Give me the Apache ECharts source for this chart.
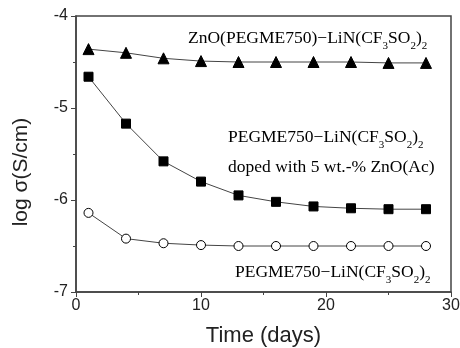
<!DOCTYPE html>
<html>
<head>
<meta charset="utf-8">
<script src="https://cdn.jsdelivr.net/npm/echarts@6/dist/echarts.min.js"></script>
<style>
  html, body { margin: 0; padding: 0; background: #fff; }
  #chart { width: 460px; height: 348px; }
</style>
</head>
<body>
<div id="chart"></div>
<script>
  // days of measurement
  const days = [1, 4, 7, 10, 13, 16, 19, 22, 25, 28];
  // log sigma values
  const znoPegme = [-4.36, -4.40, -4.46, -4.49, -4.50, -4.50, -4.50, -4.50, -4.51, -4.51];
  const pegmeDoped = [-4.66, -5.17, -5.58, -5.80, -5.95, -6.02, -6.07, -6.09, -6.10, -6.10];
  const pegme = [-6.14, -6.42, -6.47, -6.49, -6.50, -6.50, -6.50, -6.50, -6.50, -6.50];

  const pairs = (ys) => days.map((d, i) => [d, ys[i]]);

  const serif = '"Liberation Serif", "DejaVu Serif", serif';
  const sans = '"Liberation Sans", Arial, sans-serif';
  const rich = {
    a: { fontFamily: serif, fontSize: 17.5, color: '#333', lineHeight: 20 },
    s: { fontFamily: serif, fontSize: 11, color: '#333', lineHeight: 20, verticalAlign: 'bottom', padding: [0, 0, -4, 0] }
  };
  const formula = '{a|PEGME750\u2212LiN(CF}{s|3}{a|SO}{s|2}{a|)}{s|2}';

  const chart = echarts.init(document.getElementById('chart'));

  const lineSeries = (name, ys, symbol, size, fill) => ({
    name: name,
    type: 'line',
    data: pairs(ys),
    symbol: symbol,
    symbolSize: size,
    showAllSymbol: true,
    lineStyle: { color: '#444', width: 1 },
    itemStyle: { color: fill, borderColor: '#000', borderWidth: 1 },
    animation: false
  });

  chart.setOption({
    animation: false,
    grid: {
      left: 76, right: 9, top: 16, bottom: 56,
      outerBoundsMode: 'none',
      show: true, borderColor: '#444', borderWidth: 1.5
    },
    xAxis: {
      type: 'value', min: 0, max: 30, interval: 10,
      name: 'Time (days)', nameLocation: 'middle', nameGap: 33,
      nameTextStyle: { fontFamily: sans, fontSize: 22, color: '#222' },
      axisLine: { lineStyle: { color: '#444', width: 1.5 } },
      axisTick: { length: 5, lineStyle: { color: '#444' } },
      minorTick: { show: true, splitNumber: 2, length: 3, lineStyle: { color: '#444' } },
      axisLabel: { fontFamily: sans, fontSize: 16, color: '#222', margin: 6 },
      splitLine: { show: false }
    },
    yAxis: {
      type: 'value', min: -7, max: -4, interval: 1,
      name: 'log \u03c3(S/cm)', nameLocation: 'middle', nameGap: 44,
      nameTextStyle: { fontFamily: sans, fontSize: 21, color: '#222', padding: [0, 36, 0, 0] },
      axisLine: { lineStyle: { color: '#444', width: 1.5 } },
      axisTick: { length: 5, lineStyle: { color: '#444' } },
      minorTick: { show: true, splitNumber: 2, length: 3, lineStyle: { color: '#444' } },
      axisLabel: { fontFamily: sans, fontSize: 16, color: '#222', margin: 8 },
      splitLine: { show: false }
    },
    series: [
      lineSeries('ZnO(PEGME750)-LiN(CF3SO2)2', znoPegme, 'triangle', 11, '#000'),
      lineSeries('PEGME750-LiN(CF3SO2)2 doped', pegmeDoped, 'rect', 9, '#000'),
      lineSeries('PEGME750-LiN(CF3SO2)2', pegme, 'circle', 9, '#fff')
    ],
    graphic: [
      { type: 'text', left: 188, top: 29, style: { text: '{a|ZnO(PEGME750)\u2212LiN(CF}{s|3}{a|SO}{s|2}{a|)}{s|2}', rich: rich } },
      { type: 'text', left: 228, top: 128, style: { text: formula, rich: rich } },
      { type: 'text', left: 228, top: 158, style: { text: '{a|doped with 5 wt.-% ZnO(Ac)}', rich: rich } },
      { type: 'text', left: 235, top: 263, style: { text: formula, rich: rich } }
    ]
  });
</script>
</body>
</html>
